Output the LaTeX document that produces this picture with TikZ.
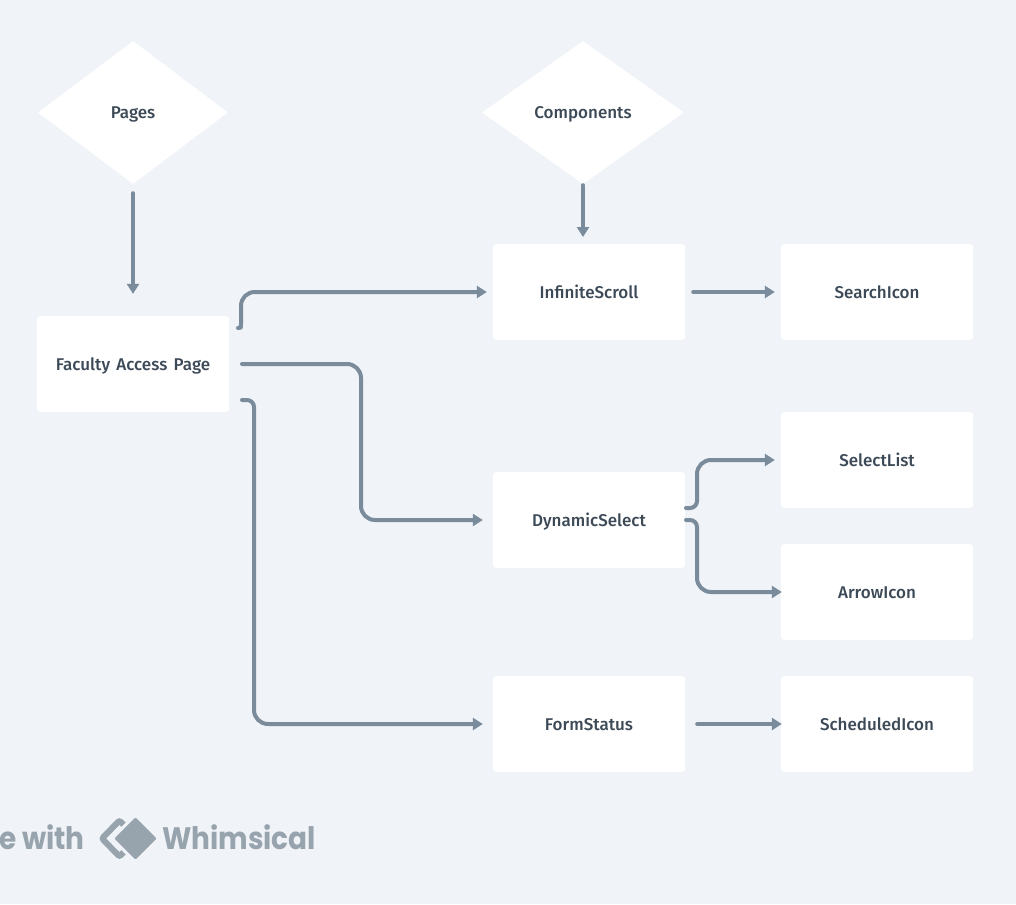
\documentclass[tikz,border=0pt]{standalone}
\usepackage{fontspec}
\setmainfont[WordSpace=1.5]{Fira Sans Medium}
\newfontfamily\logofont[FakeStretch=0.9]{Poppins}
\usetikzlibrary{arrows.meta,shapes.geometric}
\definecolor{pagebg}{HTML}{F0F3F7}
\definecolor{linegray}{HTML}{7A8B9B}
\definecolor{labeltext}{HTML}{3C4956}
\definecolor{logogray}{HTML}{97A3AD}
\begin{document}
\begin{tikzpicture}[
        x=1pt, y=-1pt,
        box/.style={rectangle, fill=white, rounded corners=3pt, minimum width=192pt, minimum height=96pt, inner sep=0pt, text height=14pt, text depth=2pt, font=\fontsize{17}{20}\selectfont, text=labeltext},
        choice/.style={diamond, fill=white, aspect=1.35, inner sep=0pt, minimum height=143pt, text height=14pt, text depth=2pt, font=\fontsize{17}{20}\selectfont, text=labeltext},
        link/.style={draw=linegray, line width=4pt, line cap=round, rounded corners=14pt, -{Triangle[length=10pt,width=12pt]}},
        logotext/.style={inner sep=0pt, text=logogray, font=\logofont\bfseries\fontsize{31}{36}\selectfont}
    ]
    \fill[pagebg] (0,0) rectangle (1016,904);
    \clip (0,0) rectangle (1016,904);
    % diamonds
    \node[choice, minimum width=190pt] (pages) at (133,112.5) {Pages};
    \node[choice, minimum width=202pt] (components) at (583,112.5) {Components};
    % boxes
    \node[box] (faculty) at (133,364) {Faculty Access Page};
    \node[box] (infinite) at (589,292) {InfiniteScroll};
    \node[box] (search) at (877,292) {SearchIcon};
    \node[box] (dynamic) at (589,520) {DynamicSelect};
    \node[box] (selectlist) at (877,460) {SelectList};
    \node[box] (arrowicon) at (877,592) {ArrowIcon};
    \node[box] (formstatus) at (589,724) {FormStatus};
    \node[box] (scheduled) at (877,724) {ScheduledIcon};
    % free ends beside the boxes
    \coordinate (facultyA) at (238,328);
    \coordinate (facultyB) at (242,364);
    \coordinate (facultyC) at (242,400);
    \coordinate (dynamicA) at (686,508);
    \coordinate (dynamicB) at (686,520);
    % straight arrows
    \draw[link, shorten <=9pt, shorten >=22pt] (pages) -- (faculty);
    \draw[link, shorten <=1pt, shorten >=7pt] (components.south) -- (583,244);
    \draw[link, shorten <=8pt, shorten >=6pt] (infinite.east) -- (search.west);
    \draw[link, shorten <=12pt, shorten >=-1pt] (formstatus.east) -- (scheduled.west);
    % bent arrows
    \draw[link, sharp corners, shorten >=6pt] (facultyA) .. controls (241,328) .. (241,324) -- (241,306) .. controls (241,298) and (247,292) .. (255,292) -- (infinite.west);
    \draw[link, shorten >=10pt] (facultyB) -| (361,520) -- (dynamic.west);
    \draw[link, shorten >=10pt] (facultyC) [rounded corners=7pt] -- (254,400) [rounded corners=14pt] -- (254,724) -- (formstatus.west);
    \draw[link, shorten >=6pt] (dynamicA) [rounded corners=7pt] -- (697,508) [rounded corners=14pt] -- (697,460) -- (selectlist.west);
    \draw[link, shorten >=-1pt] (dynamicB) [rounded corners=7pt] -- (697,520) [rounded corners=14pt] -- (697,592) -- (arrowicon.west);
    % logo
    \node[logotext, anchor=base east] (made) at (85,849) {e with};
    \draw[logogray, line width=6pt, rounded corners=2pt] (102,838.5) -- (119.5,820.5) -- (137,838.5) -- (119.5,856.5) -- cycle;
    \draw[fill=logogray, draw=pagebg, line width=3pt, rounded corners=3pt] (112,838.5) -- (135.5,815) -- (159,838.5) -- (135.5,862) -- cycle;
    \node[logotext, anchor=base west] (whimsical) at (162,849) {Whimsical};
\end{tikzpicture}
\end{document}
